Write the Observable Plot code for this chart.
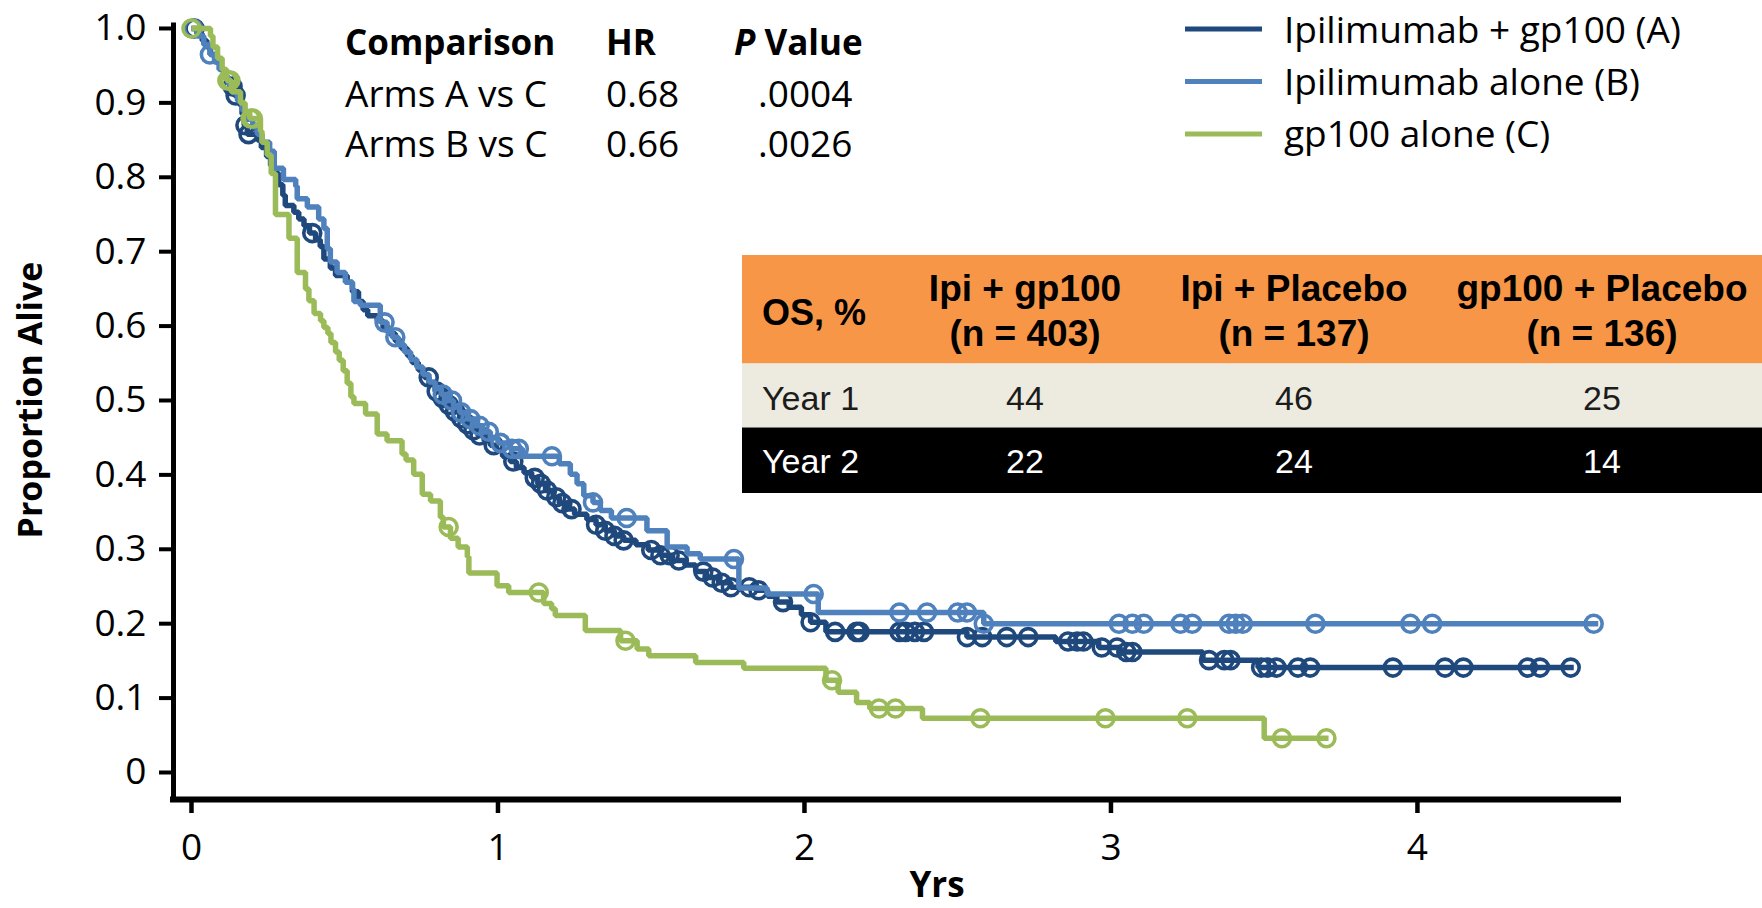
<!DOCTYPE html>
<html><head><meta charset="utf-8">
<script src="https://cdn.jsdelivr.net/npm/d3@7"></script>
<script src="https://cdn.jsdelivr.net/npm/@observablehq/plot@0.6"></script>
<style>
html,body{margin:0;padding:0;background:#fff;}
#chart{width:1762px;height:908px;overflow:hidden;}
</style></head><body><div id="chart"></div>
<script>
// ---------- data ----------
const armNames = ["Ipilimumab + gp100 (A)", "Ipilimumab alone (B)", "gp100 alone (C)"];
const armColors = ["#1F497D", "#4F81BD", "#9BBB59"];

// Kaplan-Meier steps [years, proportion alive]
const stepsA = [[0,1.0],[0.018,0.993],[0.035,0.984],[0.05,0.975],[0.062,0.965],[0.08,0.955],[0.095,0.945],[0.11,0.933],[0.125,0.922],[0.14,0.91],[0.155,0.898],[0.165,0.885],[0.172,0.87],[0.182,0.858],[0.215,0.85],[0.228,0.84],[0.245,0.828],[0.258,0.816],[0.27,0.805],[0.285,0.79],[0.298,0.776],[0.306,0.762],[0.334,0.753],[0.35,0.744],[0.367,0.735],[0.385,0.725],[0.405,0.716],[0.42,0.707],[0.432,0.69],[0.453,0.678],[0.47,0.668],[0.508,0.659],[0.525,0.646],[0.545,0.633],[0.56,0.622],[0.575,0.614],[0.606,0.607],[0.625,0.598],[0.645,0.59],[0.665,0.58],[0.685,0.57],[0.705,0.56],[0.72,0.551],[0.74,0.541],[0.76,0.531],[0.775,0.522],[0.795,0.512],[0.815,0.503],[0.835,0.494],[0.855,0.485],[0.875,0.476],[0.895,0.468],[0.915,0.46],[0.935,0.453],[0.955,0.446],[0.975,0.44],[0.995,0.433],[1.015,0.425],[1.04,0.418],[1.06,0.41],[1.085,0.403],[1.11,0.396],[1.13,0.388],[1.155,0.379],[1.18,0.37],[1.2,0.362],[1.225,0.354],[1.25,0.347],[1.29,0.34],[1.32,0.333],[1.35,0.325],[1.38,0.318],[1.41,0.312],[1.45,0.306],[1.49,0.299],[1.53,0.292],[1.57,0.285],[1.61,0.279],[1.645,0.27],[1.68,0.262],[1.72,0.255],[1.76,0.249],[1.84,0.245],[1.88,0.237],[1.91,0.229],[1.95,0.222],[1.99,0.212],[2.02,0.202],[2.07,0.189],[2.53,0.182],[2.82,0.176],[2.96,0.168],[3.03,0.162],[3.30,0.151],[3.48,0.141],[4.51,0.141]];
const stepsB = [[0,1.0],[0.02,0.99],[0.04,0.978],[0.06,0.965],[0.075,0.955],[0.09,0.945],[0.105,0.935],[0.12,0.925],[0.135,0.914],[0.15,0.903],[0.165,0.89],[0.18,0.878],[0.2,0.868],[0.215,0.858],[0.23,0.847],[0.255,0.835],[0.27,0.812],[0.3,0.797],[0.34,0.788],[0.345,0.771],[0.378,0.76],[0.415,0.744],[0.432,0.731],[0.443,0.704],[0.453,0.686],[0.475,0.672],[0.502,0.659],[0.525,0.65],[0.53,0.633],[0.551,0.628],[0.616,0.605],[0.638,0.592],[0.655,0.585],[0.675,0.575],[0.695,0.565],[0.715,0.555],[0.735,0.545],[0.755,0.535],[0.775,0.525],[0.795,0.516],[0.815,0.508],[0.835,0.5],[0.855,0.492],[0.875,0.484],[0.9,0.475],[0.925,0.466],[0.95,0.458],[0.975,0.45],[1.0,0.443],[1.04,0.435],[1.08,0.425],[1.2,0.415],[1.236,0.401],[1.258,0.388],[1.28,0.372],[1.31,0.363],[1.334,0.352],[1.37,0.342],[1.486,0.325],[1.552,0.303],[1.617,0.294],[1.66,0.287],[1.786,0.248],[1.878,0.24],[2.045,0.215],[2.585,0.2],[4.59,0.2]];
const stepsC = [[0,1.0],[0.062,0.99],[0.07,0.975],[0.085,0.96],[0.1,0.945],[0.115,0.93],[0.13,0.915],[0.16,0.9],[0.175,0.888],[0.19,0.879],[0.225,0.862],[0.23,0.847],[0.247,0.83],[0.26,0.805],[0.274,0.75],[0.318,0.718],[0.345,0.672],[0.372,0.65],[0.383,0.634],[0.40,0.617],[0.421,0.607],[0.432,0.598],[0.445,0.59],[0.455,0.578],[0.47,0.565],[0.482,0.554],[0.495,0.54],[0.508,0.523],[0.52,0.505],[0.53,0.496],[0.568,0.482],[0.606,0.455],[0.638,0.446],[0.687,0.428],[0.7,0.42],[0.725,0.401],[0.753,0.374],[0.78,0.365],[0.812,0.343],[0.822,0.33],[0.845,0.315],[0.87,0.303],[0.9,0.29],[0.905,0.268],[0.997,0.251],[1.035,0.242],[1.149,0.227],[1.175,0.22],[1.187,0.211],[1.285,0.191],[1.4,0.177],[1.454,0.166],[1.492,0.157],[1.645,0.148],[1.802,0.14],[2.07,0.124],[2.11,0.108],[2.17,0.094],[2.213,0.086],[2.385,0.073],[3.5,0.046],[3.71,0.046]];

// censoring marks (years)
const censorA = [0.01,0.134,0.144,0.176,0.186,0.394,0.774,0.80,0.82,0.84,0.86,0.88,0.90,0.92,0.94,0.986,1.05,1.12,1.14,1.16,1.19,1.21,1.24,1.32,1.35,1.38,1.41,1.50,1.53,1.56,1.59,1.67,1.70,1.73,1.76,1.82,1.85,1.93,2.02,2.10,2.17,2.18,2.31,2.33,2.36,2.39,2.53,2.58,2.66,2.73,2.86,2.89,2.91,2.97,3.02,3.05,3.07,3.32,3.37,3.39,3.49,3.51,3.54,3.61,3.65,3.92,4.09,4.15,4.36,4.40,4.50];
const censorB = [0.005,0.06,0.63,0.665,0.82,0.85,0.88,0.91,0.94,0.97,1.008,1.046,1.068,1.176,1.31,1.42,1.77,2.03,2.31,2.40,2.50,2.53,2.585,3.026,3.07,3.107,3.227,3.265,3.385,3.407,3.43,3.667,3.977,4.048,4.575];
const censorC = [0,0.117,0.122,0.127,0.193,0.2,0.839,1.133,1.416,2.09,2.243,2.297,2.574,2.982,3.249,3.558,3.703];

const yTicks = [0, 0.1, 0.2, 0.3, 0.4, 0.5, 0.6, 0.7, 0.8, 0.9, 1.0];
const yTickLabels = ["0", "0.1", "0.2", "0.3", "0.4", "0.5", "0.6", "0.7", "0.8", "0.9", "1.0"];
const xTicks = [0, 1, 2, 3, 4];
const xTickLabels = ["0", "1", "2", "3", "4"];
const xLabel = "Yrs";
const yLabel = "Proportion Alive";

const hrHeader = ["Comparison", "HR", "Value"];
const hrComparisons = ["Arms A vs C", "Arms B vs C"];
const hrValues = ["0.68", "0.66"];
const hrPValues = [".0004", ".0026"];

const osHeaderTop = ["Ipi + gp100", "Ipi + Placebo", "gp100 + Placebo"];
const osHeaderN = ["(n = 403)", "(n = 137)", "(n = 136)"];
const osCorner = "OS, %";
const osRowLabels = ["Year 1", "Year 2"];
const osYear1 = ["44", "46", "25"];
const osYear2 = ["22", "24", "14"];

// ---------- chart ----------
const X0 = -0.0587, X1 = 4.656, Y0 = -0.0363, Y1 = 1.004;
const arms = [stepsA, stepsB, stepsC];
const censors = [censorA, censorB, censorC];
function survAt(steps, tc) { let s = steps[0][1]; for (const [t, v] of steps) if (t <= tc + 1e-9) s = v; return s; }

const curveMarks = [0, 1, 2].flatMap(i => [
  Plot.line(arms[i].map(([t, s]) => ({t, s})), {x: "t", y: "s", stroke: armColors[i], strokeWidth: 5.5, curve: "step-after", strokeLinejoin: "miter", strokeLinecap: "butt"}),
  Plot.dot(censors[i].map(t => ({t, s: survAt(arms[i], t)})), {x: "t", y: "s", r: 8.5, stroke: armColors[i], strokeWidth: 3.6, fill: "none"})
]);

const plot = Plot.plot({
  width: 1762, height: 908,
  marginLeft: 173, marginRight: 144, marginTop: 25, marginBottom: 109,
  x: {domain: [X0, X1]},
  y: {domain: [Y0, Y1]},
  style: {fontFamily: "'Open Sans', sans-serif", fontSize: "37px", color: "#000", background: "#fff", overflow: "visible"},
  marks: [
    Plot.axisY(yTicks, {tickSize: 14, tickPadding: 13, strokeWidth: 4, fontSize: 37, tickFormat: d => yTickLabels[yTicks.indexOf(d)], label: null}),
    Plot.axisX(xTicks, {tickSize: 14, tickPadding: 20, strokeWidth: 4.5, fontSize: 37, tickFormat: d => xTickLabels[xTicks.indexOf(d)], label: null}),
    Plot.ruleX([X0], {y1: () => Y0, y2: () => Y1, strokeWidth: 5, strokeLinecap: "square"}),
    Plot.ruleY([Y0], {x1: () => X0, x2: () => X1, strokeWidth: 6, strokeLinecap: "square"}),
    ...curveMarks
  ]
});
document.getElementById("chart").appendChild(plot);

// ---------- annotations ----------
const svg = d3.select(plot);
const F = "'Open Sans', sans-serif";
const T = "'Liberation Sans', Arial, sans-serif";
function txt(x, y, s, opts = {}) {
  const t = svg.append("text").attr("x", x).attr("y", y)
    .attr("text-anchor", opts.anchor || "start")
    .attr("font-family", opts.family || F)
    .attr("font-weight", opts.weight || 400)
    .attr("font-size", opts.size || 37)
    .attr("fill", opts.fill || "#000");
  if (s !== null) t.text(s);
  return t;
}

// axis titles
txt(937, 897, xLabel, {anchor: "middle", weight: 700, size: 35});
txt(0, 0, yLabel, {anchor: "middle", weight: 700, size: 34}).attr("transform", "translate(42,400) rotate(-90)").attr("x", null).attr("y", null);

// legend
armNames.forEach((name, i) => {
  const ly = 29 + i * 52.5;
  svg.append("line").attr("x1", 1185).attr("x2", 1262).attr("y1", ly).attr("y2", ly)
    .attr("stroke", armColors[i]).attr("stroke-width", 5);
  txt(1284, 43 + i * 52, name, {size: 37});
});

// HR comparison table
const hrCols = [345, 606, 734];
hrHeader.forEach((h, j) => {
  if (j === 2) {
    const t = txt(hrCols[j], 55, null, {weight: 700, size: 35});
    t.append("tspan").attr("font-style", "italic").text("P");
    t.append("tspan").text(" " + h);
  } else txt(hrCols[j], 55, h, {weight: 700, size: 35});
});
hrComparisons.forEach((c, i) => {
  const by = 107 + i * 50;
  txt(345, by, c, {size: 37});
  txt(606, by, hrValues[i], {size: 37});
  txt(758, by, hrPValues[i], {size: 37});
});

// OS table
const tx = 742, tw = 1762 - 742;
svg.append("rect").attr("x", tx).attr("y", 255).attr("width", tw).attr("height", 108.5).attr("fill", "#F79646");
svg.append("rect").attr("x", tx).attr("y", 363.5).attr("width", tw).attr("height", 64).attr("fill", "#EDEAE0");
svg.append("rect").attr("x", tx).attr("y", 427.5).attr("width", tw).attr("height", 65.5).attr("fill", "#000");
const colX = [1025, 1294, 1602];
txt(762, 325, osCorner, {family: T, weight: 700, size: 36});
osHeaderTop.forEach((h, j) => {
  txt(colX[j], 301, h, {anchor: "middle", family: T, weight: 700, size: 37});
  txt(colX[j], 346, osHeaderN[j], {anchor: "middle", family: T, weight: 700, size: 37});
});
[osYear1, osYear2].forEach((row, i) => {
  const by = i === 0 ? 410 : 473;
  const col = i === 0 ? "#1c1c1c" : "#fff";
  txt(762, by, osRowLabels[i], {family: T, size: 34, fill: col});
  row.forEach((v, j) => txt(colX[j], by, v, {anchor: "middle", family: T, size: 34, fill: col}));
});
</script>
</body></html>
